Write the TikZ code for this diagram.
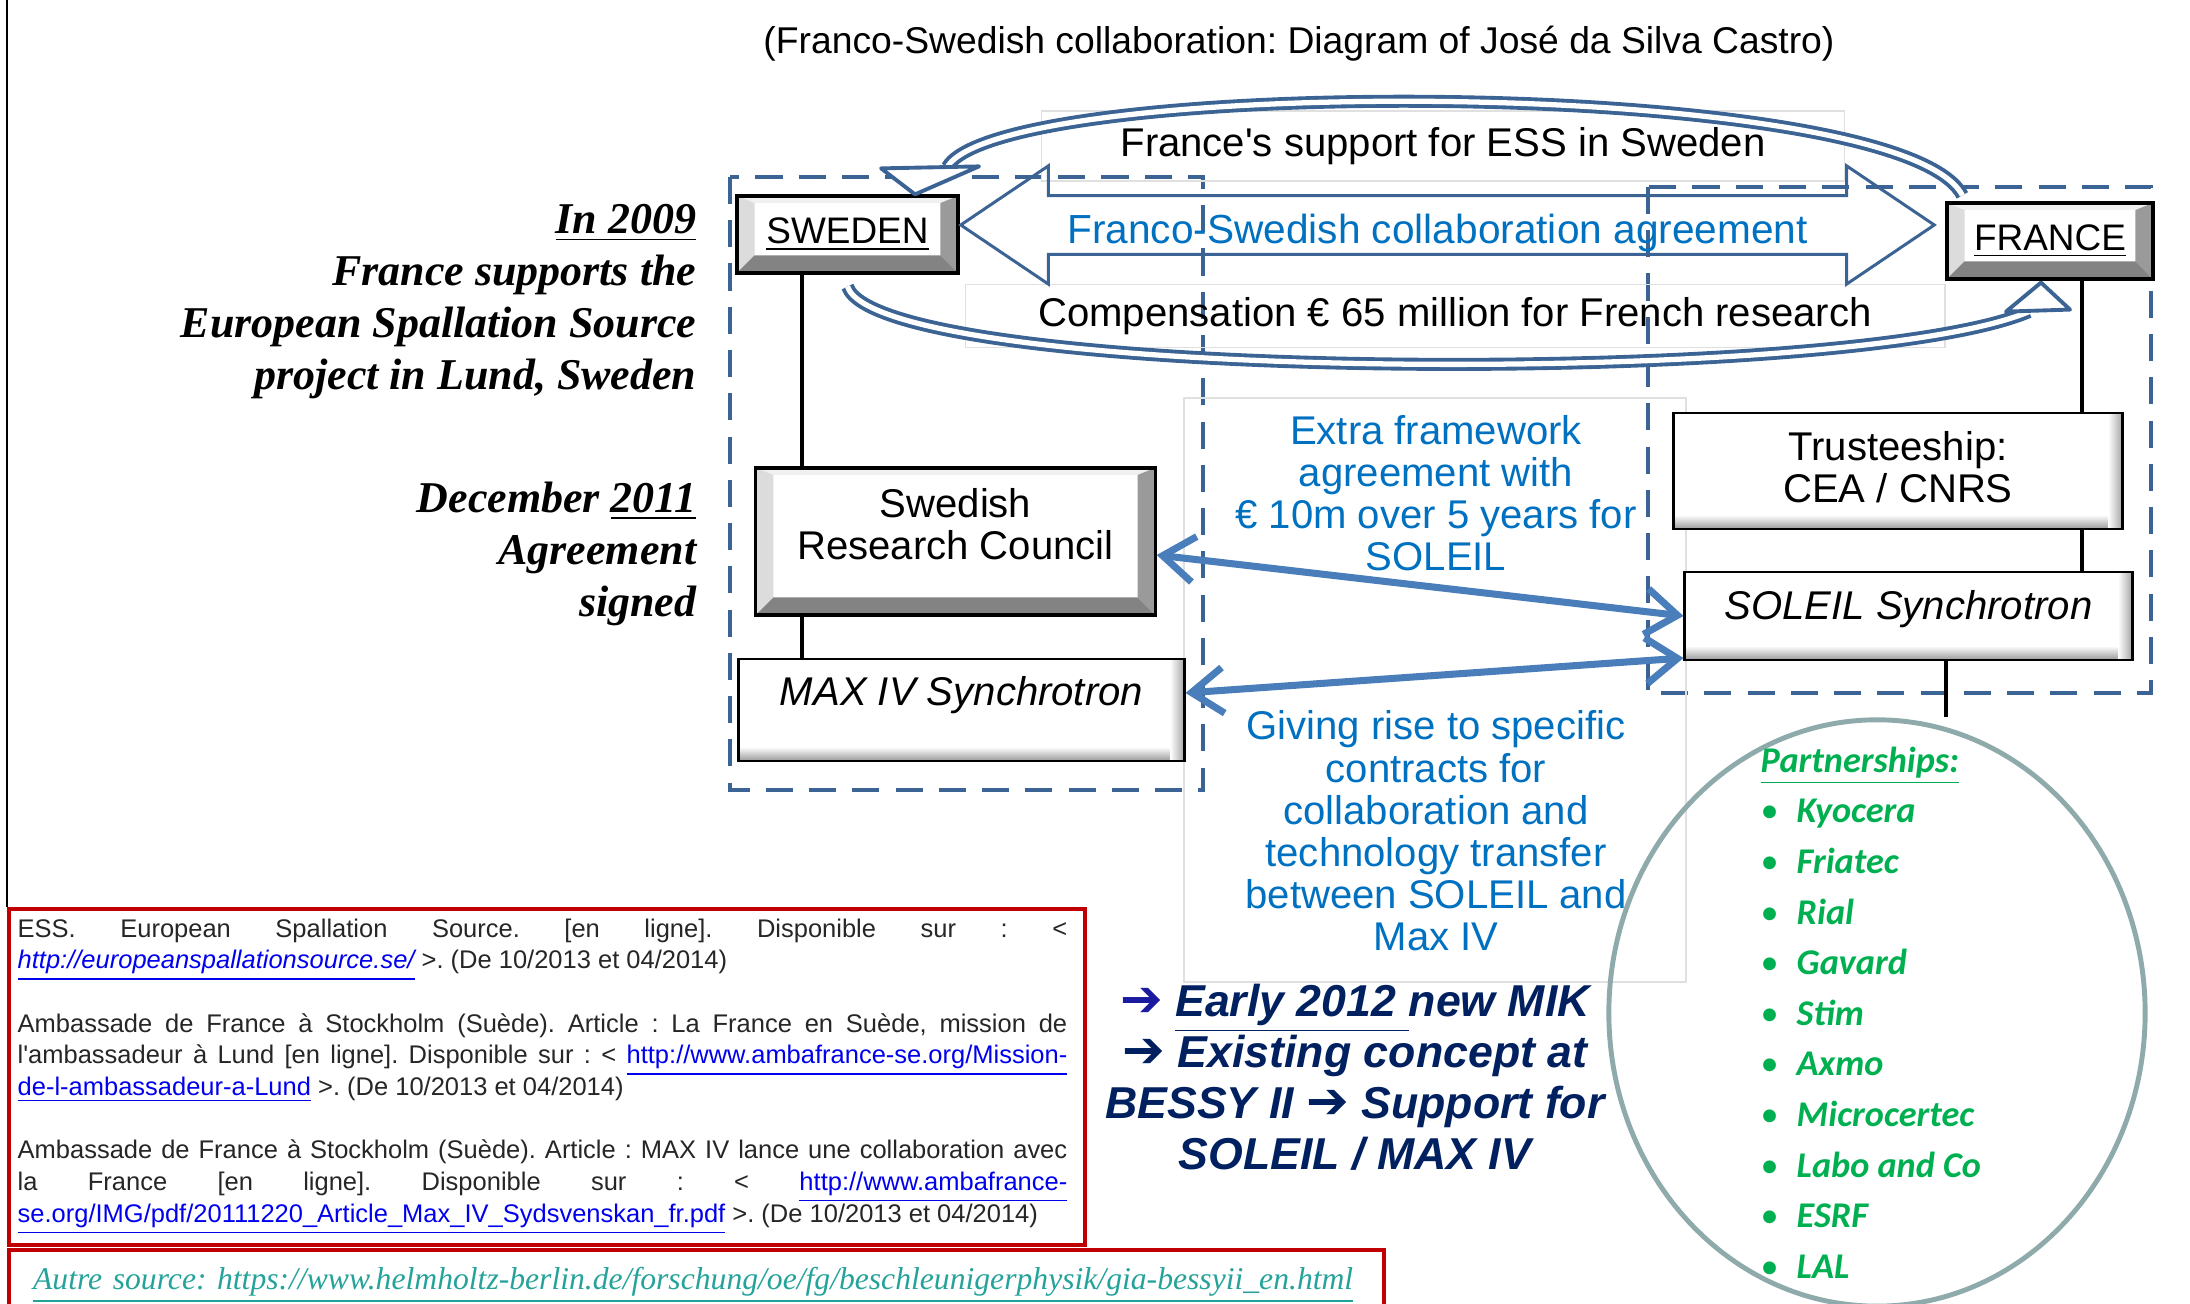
\documentclass[tikz,border=0pt]{standalone}
\usepackage{fontspec}
\setmainfont{Liberation Sans}
\newfontfamily\serifbi{Liberation Serif}
\newfontfamily\calib{Carlito}
\newfontfamily\dejavu{DejaVu Sans}
\usetikzlibrary{arrows.meta,shapes.geometric,shapes.arrows}
\definecolor{dashblue}{HTML}{3B6494}
\definecolor{arrowblue}{HTML}{4A7EBB}
\definecolor{textblue}{HTML}{0070C0}
\definecolor{navy}{HTML}{002060}
\definecolor{firstarrow}{HTML}{1B1BA0}
\definecolor{partgreen}{HTML}{00B050}
\definecolor{ellgray}{HTML}{8FAAAA}
\definecolor{refred}{HTML}{C00000}
\definecolor{linkblue}{HTML}{0000EE}
\definecolor{tealtext}{HTML}{25A39B}
\definecolor{bevlight}{HTML}{DCDCDC}
\definecolor{bevtop}{HTML}{F0F0F0}
\definecolor{bevdark}{HTML}{9A9A9A}
\newcommand{\weblink}[1]{\textcolor{linkblue}{\underline{#1}}}
\newcommand{\bigarrow}{{\dejavu\upshape\fontsize{14.5}{14.5}\selectfont ➔}}
\newcommand{\dotmark}{\makebox[0.36cm][l]{\textmd{\textup{•}}}}
\frenchspacing

\begin{document}
\begin{tikzpicture}[x=0.01cm,y=-0.01cm,>={Straight Barb[length=9pt,width=13pt]},
  every node/.style={font=\fontsize{11.4}{12}\selectfont},
  frame/.style={dashblue,line width=1.15pt,dash pattern=on 7.7pt off 4.6pt},
  faint/.style={draw=black!12,line width=0.4pt,inner sep=0pt},
  stem/.style={draw=black,line width=0.9pt},
  band/.style={draw=dashblue,line width=1.1pt,double=white,double distance=1.5pt},
  bandhead/.style={draw=dashblue,line width=1.1pt,fill=white,line join=round},
  link/.style={<->,arrowblue,line width=2pt},
  bluetext/.style={text=textblue,align=center},
  refbox/.style={draw=refred,line width=1.2pt,anchor=north west,inner sep=0pt},
  bevelbox/.style={draw=black,line width=0.9pt,fill=white,inner sep=0pt,
    path picture={
      \coordinate (nw) at (path picture bounding box.north west);
      \coordinate (ne) at (path picture bounding box.north east);
      \coordinate (sw) at (path picture bounding box.south west);
      \coordinate (se) at (path picture bounding box.south east);
      \fill[bevtop] (nw) -- (ne) -- ([shift={(-5pt,-2pt)}]ne) -- ([shift={(5pt,-2pt)}]nw) -- cycle;
      \fill[bevlight] (nw) -- (sw) -- ([shift={(5pt,5pt)}]sw) -- ([shift={(5pt,-2pt)}]nw) -- cycle;
      \fill[bevdark] (ne) -- (se) -- ([shift={(-5pt,5pt)}]se) -- ([shift={(-5pt,-2pt)}]ne) -- cycle;
      \fill[bevdark!85!black] (sw) -- (se) -- ([shift={(-5pt,5pt)}]se) -- ([shift={(5pt,5pt)}]sw) -- cycle;
    }},
  softbox/.style={draw=black,line width=0.8pt,fill=white,inner sep=0pt,
    path picture={
      \coordinate (nw) at (path picture bounding box.north west);
      \coordinate (ne) at (path picture bounding box.north east);
      \coordinate (sw) at (path picture bounding box.south west);
      \coordinate (se) at (path picture bounding box.south east);
      \shade[top color=white,bottom color=black!40] ([yshift=4pt]sw) rectangle (se);
      \shade[left color=white,right color=black!35] ([xshift=-4pt]ne) rectangle (se);
    }}]
  \useasboundingbox (0,0) rectangle (2190,1304);
  \draw[line width=0.6pt] (7,0) -- (7,907);

  \node (title) at (1299,44) {\fontsize{10.6}{12}\selectfont(Franco-Swedish collaboration: Diagram of José da Silva Castro)};

  \draw[frame] (730,177) rectangle (1203,790);
  \draw[frame] (1648,187) rectangle (2151,693);

  \node[faint,minimum width=8.03cm,minimum height=0.70cm] (support) at (1443,146) {France\textquotesingle s support for ESS in Sweden};
  \node[faint,minimum width=9.79cm,minimum height=0.63cm] (comp) at (1455,316) {Compensation € 65 million for French research};
  \node[faint,minimum width=5.02cm,minimum height=5.84cm] (middle) at (1435,690) {};

  \node[bevelbox,minimum width=2.21cm,minimum height=0.77cm,font=\fontsize{10.5}{12}\selectfont] (sweden) at (847.5,234.5) {\underline{SWEDEN}};
  \node[bevelbox,minimum width=2.06cm,minimum height=0.76cm,font=\fontsize{10.5}{12}\selectfont] (france) at (2050,241) {\underline{FRANCE}};
  \node[bevelbox,minimum width=3.99cm,minimum height=1.47cm,align=center,text depth=9.8pt] (src) at (955.5,541.5) {Swedish\\Research Council};
  \node[softbox,minimum width=4.45cm,minimum height=1.02cm,text depth=11pt,font=\itshape\fontsize{11.4}{12}\selectfont] (maxiv) at (961.5,710) {MAX IV Synchrotron};
  \node[softbox,minimum width=4.48cm,minimum height=1.16cm,align=center,text depth=2.2pt] (trust) at (1898,471) {Trusteeship:\\CEA / CNRS};
  \node[softbox,minimum width=4.47cm,minimum height=0.88cm,text depth=6.5pt,font=\itshape\fontsize{11.4}{12}\selectfont] (soleil) at (1908.5,616) {SOLEIL Synchrotron};

  \node[double arrow,draw=dashblue,line width=0.85pt,minimum height=9.73cm,double arrow head extend=8.5pt,double arrow tip angle=68,inner ysep=0.35pt,text height=12.7pt,text depth=2.4pt,text=textblue,font=\fontsize{11.55}{12}\selectfont] (agree) at (1447.5,225) {Franco-Swedish collaboration agreement\rule{0.2cm}{0pt}};

  \node[ellipse,draw=ellgray,line width=1.4pt,minimum width=5.36cm,minimum height=5.86cm,inner sep=0pt] (partners) at (1877,1013) {};
  \node[anchor=north west,align=left,inner sep=0pt,text=partgreen,font=\calib\bfseries\itshape\fontsize{10.3}{14.4}\selectfont] (plist) at (1760,746)
    {\underline{Partnerships:}\\
     \dotmark Kyocera\\
     \dotmark Friatec\\
     \dotmark Rial\\
     \dotmark Gavard\\
     \dotmark Stim\\
     \dotmark Axmo\\
     \dotmark Microcertec\\
     \dotmark Labo and Co\\
     \dotmark ESRF\\
     \dotmark LAL};

  \coordinate (swx) at (802,0);
  \coordinate (frx) at (2082,0);
  \coordinate (plx) at (1946,0);
  \path (sweden.south -| swx) edge[stem] (src.north -| swx);
  \path (src.south -| swx) edge[stem] (maxiv.north -| swx);
  \path (france.south -| frx) edge[stem] (trust.north -| frx);
  \path (trust.south -| frx) edge[stem] (soleil.north -| frx);
  \path (soleil.south -| plx) edge[stem] (partners.north -| plx);

  \path ([yshift=-0.135cm]src.east) edge[link] (soleil.west);
  \path ([yshift=0.17cm]maxiv.east) edge[link] ([yshift=-0.42cm]soleil.west);

  \coordinate (stip) at ([xshift=0.675cm]sweden.north);
  \draw[band] ([shift={(17,-6)}]france.north west) .. controls (1900,75) and (1000,75) .. ([shift={(32,-27)}]stip);
  \draw[bandhead] (stip) -- ++(-34,-26) -- ++(98,-2) -- cycle;
  \coordinate (ftip) at ([shift={(-9,2)}]france.south);
  \draw[band] ([yshift=-0.12cm]sweden.south) .. controls (880,383) and (1850,388) .. ([shift={(-12,29)}]ftip);
  \draw[bandhead] (ftip) -- ++(-35,29) -- ++(64,-2) -- cycle;

  \node[bluetext] (extra) at (1436,493) {Extra framework\\agreement with\\€ 10m over 5 years for\\SOLEIL};
  \node[bluetext] (giving) at (1436,831) {Giving rise to specific\\contracts for\\collaboration and\\technology transfer\\between SOLEIL and\\Max IV};

  \node[align=center,text=navy,font=\bfseries\itshape\fontsize{12.7}{14.5}\selectfont] (mik) at (1355,1077)
    {\textcolor{firstarrow}{\bigarrow} \underline{Early 2012\ }new MIK\\\bigarrow{} Existing concept at\\BESSY II \bigarrow{} Support for\\SOLEIL / MAX IV};

  \node[anchor=east,align=right,inner sep=0pt,font=\serifbi\bfseries\itshape\fontsize{12.5}{14.8}\selectfont] (in09) at (697,302)
    {\underline{In 2009}\\France supports the\\European Spallation Source\\project in Lund, Sweden};
  \node[anchor=east,align=right,inner sep=0pt,font=\serifbi\bfseries\itshape\fontsize{12.5}{14.8}\selectfont] (dec11) at (697,554)
    {December \underline{2011}\\Agreement\\signed};

  \node[refbox,minimum width=10.75cm,minimum height=3.36cm] (refs) at (7,907) {};
  \node[anchor=north west,inner sep=0pt,text width=10.49cm,align=justify,text=black!85,font=\fontsize{7.25}{9}\selectfont] (reftext) at ([shift={(10,11)}]refs.north west)
    {\tolerance=9999\hbadness=10000
     ESS. European Spallation Source. [en ligne]. Disponible sur : <\linebreak
     {\itshape\weblink{http://europeanspallationsource.se/}} >. (De 10/2013 et 04/2014)\par\vskip 9pt
     Ambassade de France à Stockholm (Suède). Article : La France en Suède, mission de\linebreak
     l\textquotesingle ambassadeur à Lund [en ligne]. Disponible sur : < \weblink{http://www.ambafrance-se.org/Mission-}\linebreak
     \weblink{de-l-ambassadeur-a-Lund} >. (De 10/2013 et 04/2014)\par\vskip 9pt
     Ambassade de France à Stockholm (Suède). Article : MAX IV lance une collaboration avec\linebreak
     la France [en ligne]. Disponible sur : < \weblink{http://www.ambafrance-}\linebreak
     \mbox{\weblink{se.org/IMG/pdf/20111220\_Article\_Max\_IV\_Sydsvenskan\_fr.pdf} >. (De 10/2013 et 04/2014)}};
  \node[refbox,minimum width=13.74cm,minimum height=0.7cm,text width=13.26cm,inner xsep=0.24cm,align=left,text=tealtext,font=\serifbi\itshape\fontsize{9}{11}\selectfont] (autre) at (7,1248)
    {\underline{Autre source: https://www.helmholtz-berlin.de/forschung/oe/fg/beschleunigerphysik/gia-bessyii\_en.html}};
\end{tikzpicture}
\end{document}
